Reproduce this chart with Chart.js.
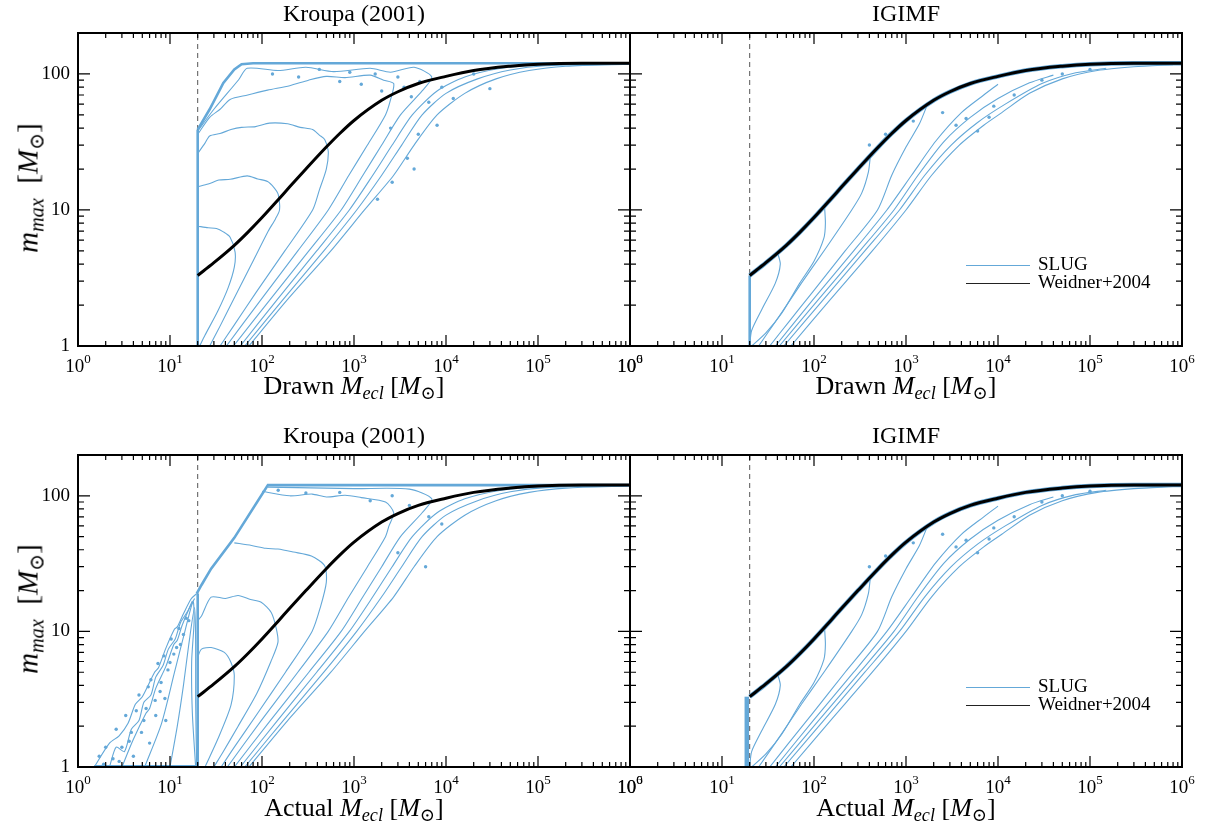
<!DOCTYPE html>
<html>
<head>
<meta charset="utf-8">
<script src="https://cdn.jsdelivr.net/npm/chart.js@4.4.1/dist/chart.umd.min.js"></script>
<style>
  body { margin: 0; background: #fff; width: 1205px; height: 827px; position: relative; overflow: hidden;
         font-family: "Liberation Serif", "DejaVu Serif", serif; color: #000; }
  canvas { position: absolute; left: 0; top: 0; }
  .title { position: absolute; font-size: 24px; line-height: 24px; transform: translateX(-50%); white-space: nowrap; }
  .xlab { position: absolute; font-size: 26px; line-height: 26px; transform: translateX(-50%); white-space: nowrap; }
  .ylab { position: absolute; font-size: 29px; line-height: 29px; transform: translate(-50%, -50%) rotate(-90deg); white-space: nowrap; }
  sub { font-size: 70%; vertical-align: -0.3em; line-height: 0; }
  .leg { position: absolute; font-size: 19px; line-height: 19px; white-space: nowrap; }
  .leg span { display: inline-block; width: 64px; vertical-align: middle; margin-right: 8px; }
</style>
</head>
<body>
<canvas id="p1" width="1205" height="827"></canvas>
<canvas id="p2" width="1205" height="827"></canvas>
<canvas id="p3" width="1205" height="827"></canvas>
<canvas id="p4" width="1205" height="827"></canvas>

<div class="title" style="left:354px; top:1px">Kroupa (2001)</div>
<div class="title" style="left:906px; top:1px">IGIMF</div>
<div class="title" style="left:354px; top:423px">Kroupa (2001)</div>
<div class="title" style="left:906px; top:423px">IGIMF</div>

<div class="xlab" style="left:354px; top:373px">Drawn <i>M<sub>ecl</sub></i> [<i>M</i><sub>⊙</sub>]</div>
<div class="xlab" style="left:906px; top:373px">Drawn <i>M<sub>ecl</sub></i> [<i>M</i><sub>⊙</sub>]</div>
<div class="xlab" style="left:354px; top:795px">Actual <i>M<sub>ecl</sub></i> [<i>M</i><sub>⊙</sub>]</div>
<div class="xlab" style="left:906px; top:795px">Actual <i>M<sub>ecl</sub></i> [<i>M</i><sub>⊙</sub>]</div>

<div class="ylab" style="left:28px; top:188px"><i>m<sub>max</sub></i> &nbsp;[<i>M</i><sub>⊙</sub>]</div>
<div class="ylab" style="left:28px; top:609px"><i>m<sub>max</sub></i> &nbsp;[<i>M</i><sub>⊙</sub>]</div>

<div class="leg" style="left:966px; top:254px"><span style="border-top:1px solid #64a8d8"></span>SLUG</div>
<div class="leg" style="left:966px; top:272px"><span style="border-top:1.5px solid #222"></span>Weidner+2004</div>
<div class="leg" style="left:966px; top:676px"><span style="border-top:1px solid #64a8d8"></span>SLUG</div>
<div class="leg" style="left:966px; top:694px"><span style="border-top:1.5px solid #222"></span>Weidner+2004</div>

<script>
// axes
const xMajor = [1, 10, 100, 1000, 10000, 100000, 1000000];
const xExp = ['0', '1', '2', '3', '4', '5', '6'];
const yMajor = [1, 10, 100];
const yLabels = ['1', '10', '100'];
const cutM = 20;

// Weidner+2004 m_max(M_ecl)
const weidnerM = [20, 30, 50, 70, 100, 150, 200, 300, 500, 700, 1000, 2000, 3000, 5000, 1e4, 2e4, 5e4, 1e5, 3e5, 1e6];
const weidnerMax = [3.3, 4.1, 5.5, 6.85, 8.8, 11.9, 14.8, 20, 29, 36.5, 45.5, 64, 74, 85, 96, 106, 114, 118, 120, 120];

// Kroupa, drawn M_ecl: contours [M_ecl, m_max]
const kdVert = [[20, 1], [20, 39]];
const kdEnv = [[20, 39], [27, 55], [38, 86], [50, 108], [60, 118], [80, 120], [1e6, 120]];
const kdA = [[20, 7.6], [26, 7.4], [32, 7.3], [38, 6.9], [45, 6.3], [51, 4.9], [50, 3.8], [43, 2.7], [33, 1.8], [24, 1.2], [21, 1]];
const kdB = [[20, 14.8], [26, 15.5], [34, 16.6], [45, 16.8], [69, 17.8], [90, 16.9], [115, 16.2], [135, 14.6], [150, 13], [155, 10], [140, 8.6], [117, 7], [77, 4], [49, 2.2], [35, 1.4], [27, 1]];
const kdC = [[20, 26], [24, 31], [27, 35], [35, 36.5], [46, 39], [60, 40.5], [85, 41], [120, 43.5], [190, 43], [260, 40.5], [355, 39], [420, 35.5], [480, 33], [525, 27], [500, 20], [420, 14], [355, 10], [177, 5], [87, 2.5], [49, 1.4], [35, 1]];
const kdD = [[20, 36], [27, 48], [35, 55], [45, 65], [70, 70], [115, 76], [200, 82], [320, 90], [500, 96], [800, 94], [1500, 98], [2100, 90], [2700, 85], [2500, 65], [2200, 50], [1400, 30], [880, 18], [525, 10], [245, 5], [98, 2.2], [41, 1]];
const kdE = [[20, 38], [30, 55], [56, 91], [69, 110], [150, 106], [300, 112], [600, 104], [1500, 110], [2500, 103], [4500, 112], [7000, 95], [5500, 75], [3200, 50], [2000, 30], [1250, 18], [725, 10], [323, 5], [123, 2.2], [49, 1]];
const kF = [[58, 1], [147, 2.2], [393, 5], [890, 10], [1600, 18], [2600, 30], [4300, 50], [8000, 75], [16000, 95], [40000, 110], [1e5, 116], [1e6, 119]];
const kG = [[65, 1], [170, 2.2], [470, 5], [1070, 10], [2000, 18], [3300, 30], [5500, 50], [10000, 72], [22000, 92], [50000, 107], [1.2e5, 115], [1e6, 119]];
const kH = [[72, 1], [190, 2.2], [560, 5], [1300, 10], [2700, 18], [4500, 30], [8000, 50], [16000, 72], [35000, 92], [80000, 106], [2e5, 114], [1e6, 118]];
const kdDots = [[130, 100], [250, 95], [420, 108], [700, 88], [900, 103], [1200, 84], [1700, 100], [2000, 75], [3000, 95], [3500, 80], [4200, 68], [5200, 88],
  [6500, 62], [9000, 80], [12000, 66], [2500, 40], [3800, 24], [5000, 36], [8000, 42], [1800, 12], [2600, 16], [4500, 20], [20000, 100], [30000, 78]];

// Kroupa, actual M_ecl
const kaVert = [[20, 1], [20, 19]];
const kaEnv = [[19.5, 19], [22, 22], [28, 29], [50, 49], [116, 120], [1e6, 120]];
const kaBottom = [[1.5, 1.01], [20, 1.01]];
const kaCloud = [[1.5, 1], [2.2, 1.5], [2.8, 1.7], [3.5, 2.1], [4.2, 2.9], [5, 3.3], [6.8, 5], [7.5, 5.4], [9, 7.5], [11.2, 10.4], [12, 10.8], [14, 13.5], [17, 17.4], [19.5, 19]];
const kaCloudIn = [[3, 1], [4, 1.6], [5.5, 2.5], [6, 2.7], [7, 3.8], [9, 5.5], [11, 8], [12, 8.6], [13.5, 11], [16, 14.5], [18.5, 17.5]];
const kaCloudMid = [[2.2, 1], [2.6, 1.4], [3.2, 1.3], [3.8, 1.9], [4.6, 2.2], [5.2, 3], [6.2, 3.4], [7, 4.6], [8.4, 5.6], [9.6, 7.4], [11.4, 8.8], [13, 11.6], [15.5, 14], [17.5, 16.8]];
const kaV1 = [[5.3, 1], [8.1, 2.1], [11.2, 5], [14.4, 9.8], [17.8, 16.6], [18.3, 12], [17.2, 6], [17.5, 2.5], [19, 1]];
const kaV2 = [[10, 1], [12, 2], [14, 4], [16, 8], [18.5, 15], [19, 8], [19, 3], [19.5, 1]];
const kaA = [[20, 6.5], [22, 7.4], [28, 7.6], [39, 7.0], [46, 5.9], [50, 4.7], [46, 2.86], [33, 1.6], [24, 1]];
const kaB = [[20, 12], [22, 13], [28, 17.9], [40, 17.5], [55, 18.4], [75, 17.2], [98, 16.4], [126, 13.8], [143, 10.5], [149, 8.3], [125, 6], [88, 3.5], [55, 2], [38, 1.3], [30, 1]];
const kaC = [[50, 45], [77, 43], [110, 41], [149, 40.5], [220, 38.5], [344, 36], [480, 30.5], [500, 23], [430, 15], [350, 10], [180, 5], [90, 2.5], [50, 1.4], [36, 1]];
const kaD = [[100, 108], [200, 100], [350, 103], [500, 98], [800, 101], [1200, 97], [2200, 90], [2700, 75], [2400, 60], [2200, 50], [1400, 30], [880, 18], [525, 10], [245, 5], [98, 2.2], [42, 1]];
const kaE = [[116, 116], [1000, 113], [4000, 112], [7000, 95], [5500, 75], [3200, 50], [2000, 30], [1250, 18], [725, 10], [323, 5], [123, 2.2], [50, 1]];
const kaDots = [[1.7, 1.2], [2, 1.4], [2.4, 1.15], [2.6, 1.9], [3, 1.4], [3.3, 2.4], [3.8, 1.8], [4.3, 2.6], [4.6, 3.4], [5.2, 2.2], [5.8, 3.9], [6.2, 4.4],
  [6.9, 3.1], [7.4, 5.8], [8, 4.2], [8.6, 6.6], [9.5, 5.2], [10.3, 8.8], [11, 6.8], [12.5, 10.5], [13, 8], [15, 12.5], [4, 1.2], [6, 1.5], [9, 2.2],
  [2.8, 1.1], [3.6, 1.55], [4.9, 1.8], [5.5, 2.7], [7.8, 3.6], [10, 5.9], [11.8, 7.6], [14, 9.5], [16, 12], [1.9, 1.05], [7, 2.4], [8.8, 3.2],
  [150, 110], [300, 105], [700, 106], [1500, 92], [2600, 100], [4000, 85], [6500, 70], [9000, 62], [3000, 38], [6000, 30]];

// IGIMF contours
const igVertD = [[20, 1], [20, 3.3]];
const igVertA = [[18.6, 1], [18.6, 3.3]];
const ig1 = [[40, 4.9], [43, 4.0], [38, 2.9], [27, 1.85], [21, 1.3], [20, 1]];
const ig2 = [[130, 10.8], [133, 8], [128, 6.2], [100, 4.2], [70, 2.9], [45, 1.76], [30, 1.25], [21, 1]];
const ig3 = [[410, 25], [390, 19], [330, 13.3], [257, 10], [131, 5.1], [73, 2.9], [42, 1.66], [25, 1]];
const ig4 = [[1700, 59], [1400, 43], [1000, 29], [700, 18], [490, 10], [218, 5], [97, 2.5], [53, 1.5], [33, 1]];
const ig5 = [[38, 1], [98, 2.2], [270, 5], [620, 10], [1150, 18], [2100, 32], [4000, 52], [7000, 70], [10000, 84]];
const ig6 = [[42, 1], [112, 2.2], [315, 5], [740, 10], [1350, 18], [2600, 32], [5000, 48], [10000, 66], [22000, 86], [40000, 98]];
const ig7 = [[47, 1], [127, 2.2], [357, 5], [850, 10], [1600, 18], [3100, 30], [6000, 44], [12000, 60], [30000, 85], [70000, 102], [1.5e5, 110]];
const ig8 = [[56, 1], [151, 2.2], [430, 5], [1000, 10], [1900, 18], [3800, 30], [7000, 42], [11000, 52], [22000, 72], [50000, 92], [1.2e5, 106], [3e5, 113], [8e5, 117]];
const igDots = [[400, 30], [600, 36], [1200, 45], [2500, 52], [3500, 42], [4500, 47], [6000, 38], [8000, 48], [9000, 58], [15000, 70], [30000, 90], [50000, 100], [1e5, 108]];

const BLUE = '#64a8d8';

function line(pts, color, width, order, dash, tension) {
  return {
    data: pts.map(p => ({ x: p[0], y: p[1] })),
    showLine: true, borderColor: color, borderWidth: width, borderDash: dash || [],
    pointRadius: 0, fill: false, tension: tension || 0, order: order
  };
}
function dots(pts) {
  return {
    data: pts.map(p => ({ x: p[0], y: p[1] })),
    showLine: false, pointRadius: 1.7, pointBackgroundColor: BLUE, pointBorderWidth: 0, order: 2
  };
}
function weidner(width, color, order) {
  const ds = line(weidnerM.map((m, i) => [m, weidnerMax[i]]), color, width, order);
  ds.cubicInterpolationMode = 'monotone';
  return ds;
}
const dashed = () => line([[cutM, 1], [cutM, 200]], '#555', 1, 3, [5, 4]);

const axisDecor = {
  id: 'axisDecor',
  afterDatasetsDraw(chart, args, opts) {
    const { ctx, chartArea: a } = chart;
    const xs = chart.scales.x, ys = chart.scales.y;
    ctx.save();
    ctx.strokeStyle = '#000';
    ctx.lineWidth = 1.2;
    ctx.beginPath();
    for (let d = 0; d < 6; d++) {
      for (let k = 1; k < 10; k++) {
        const p = xs.getPixelForValue(k * Math.pow(10, d));
        const L = k === 1 ? 11 : 5;
        ctx.moveTo(p, a.bottom); ctx.lineTo(p, a.bottom - L);
        ctx.moveTo(p, a.top); ctx.lineTo(p, a.top + L);
      }
    }
    for (let d = 0; d < 3; d++) {
      for (let k = 1; k < 10; k++) {
        const v = k * Math.pow(10, d);
        if (v > 200) break;
        const p = ys.getPixelForValue(v);
        const L = k === 1 ? 12 : 6;
        ctx.moveTo(a.left, p); ctx.lineTo(a.left + L, p);
        ctx.moveTo(a.right, p); ctx.lineTo(a.right - L, p);
      }
    }
    ctx.stroke();
    ctx.lineWidth = 2;
    ctx.strokeRect(a.left, a.top, a.right - a.left, a.bottom - a.top);

    ctx.fillStyle = '#000';
    ctx.textBaseline = 'alphabetic';
    xMajor.forEach((v, i) => {
      const p = xs.getPixelForValue(v);
      ctx.font = '19px "Liberation Serif"';
      const w1 = ctx.measureText('10').width;
      ctx.font = '13px "Liberation Serif"';
      const w2 = ctx.measureText(xExp[i]).width;
      const x0 = p - (w1 + w2) / 2;
      ctx.font = '19px "Liberation Serif"';
      ctx.textAlign = 'left';
      ctx.fillText('10', x0, a.bottom + 26);
      ctx.font = '13px "Liberation Serif"';
      ctx.fillText(xExp[i], x0 + w1, a.bottom + 17);
    });
    if (opts.yLabels) {
      ctx.font = '19px "Liberation Serif"';
      ctx.textAlign = 'right';
      ctx.textBaseline = 'middle';
      yMajor.forEach((v, i) => {
        ctx.fillText(yLabels[i], a.left - 8, ys.getPixelForValue(v));
      });
    }
    ctx.restore();
  }
};

function panel(id, pad, datasets, yLab) {
  new Chart(document.getElementById(id), {
    type: 'scatter',
    data: { datasets: datasets },
    options: {
      responsive: false, animation: false, events: [],
      layout: { padding: pad },
      scales: {
        x: { type: 'logarithmic', min: 1, max: 1e6, display: false },
        y: { type: 'logarithmic', min: 1, max: 200, display: false }
      },
      plugins: { legend: { display: false }, tooltip: { enabled: false }, axisDecor: { yLabels: yLab } }
    },
    plugins: [axisDecor]
  });
}

const thin = pts => line(pts, BLUE, 1.1, 2, null, 0.25);
const thick = pts => line(pts, BLUE, 2.6, 2);

panel('p1', { left: 78, top: 33, right: 575, bottom: 481 }, [
  weidner(3, '#000', 0),
  thick(kdVert), thick(kdEnv),
  thin(kdA), thin(kdB), thin(kdC), thin(kdD), thin(kdE), thin(kF), thin(kG), thin(kH),
  dots(kdDots),
  dashed()
], true);

panel('p2', { left: 630, top: 33, right: 23, bottom: 481 }, [
  weidner(3, '#000', 0),
  weidner(4.5, BLUE, 1),
  thick(igVertD),
  thin(ig1), thin(ig2), thin(ig3), thin(ig4), thin(ig5), thin(ig6), thin(ig7), thin(ig8),
  dots(igDots),
  dashed()
], false);

panel('p3', { left: 78, top: 455, right: 575, bottom: 60 }, [
  weidner(3, '#000', 0),
  thick(kaVert), thick(kaEnv), thick(kaBottom),
  thin(kaCloud), thin(kaCloudIn), thin(kaCloudMid), thin(kaV1), thin(kaV2),
  thin(kaA), thin(kaB), thin(kaC), thin(kaD), thin(kaE), thin(kF), thin(kG), thin(kH),
  dots(kaDots),
  dashed()
], true);

panel('p4', { left: 630, top: 455, right: 23, bottom: 60 }, [
  weidner(3, '#000', 0),
  weidner(4.5, BLUE, 1),
  line(igVertA, BLUE, 4.5, 2),
  thin(ig1), thin(ig2), thin(ig3), thin(ig4), thin(ig5), thin(ig6), thin(ig7), thin(ig8),
  dots(igDots),
  dashed()
], false);
</script>
</body>
</html>
